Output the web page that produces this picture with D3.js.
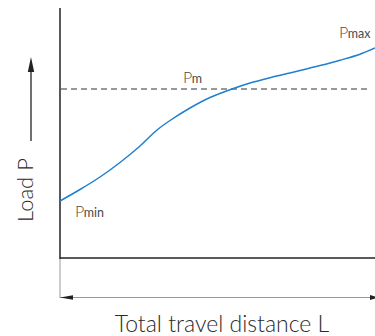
<!DOCTYPE html>
<html>
<head>
<meta charset="utf-8">
<script src="https://cdn.jsdelivr.net/npm/d3@7"></script>
<style>
  html, body { margin: 0; padding: 0; background: #fff; }
  svg { display: block; }
  text { font-family: Lato, "Open Sans", sans-serif; font-weight: 300; fill: #2a2a2a; }
  text.plabel { font-weight: 400; fill: #4a4a4a; }
</style>
</head>
<body>
<svg id="chart" width="375" height="336"></svg>
<script>
// Travel distance (arbitrary units) and load (arbitrary units)
const distance = [0, 20, 40, 60, 80, 97, 110, 130, 150, 172, 190, 210, 230, 240, 260, 280, 300, 315];
const load     = [57, 68.5, 81, 95.5, 112, 128, 137.5, 150, 160.5, 169, 175, 180.3, 185, 187.4, 192.4, 197.8, 203.8, 210];
const meanLoad = 169;
const labels = { min: "min", m: "m", max: "max" };
const xTitle = "Total travel distance L";
const yTitle = "Load P";

const svg = d3.select("#chart");
const x = d3.scaleLinear().domain([0, 315]).range([60, 375]);
const y = d3.scaleLinear().domain([0, 250]).range([258, 8]);

// Axes frame
svg.append("line").attr("x1", x(0)).attr("x2", x(0)).attr("y1", y(250)).attr("y2", y(0) + 1)
  .attr("stroke", "#222").attr("stroke-width", 1.5);
svg.append("line").attr("x1", x(0)).attr("x2", x(315)).attr("y1", y(0)).attr("y2", y(0))
  .attr("stroke", "#222").attr("stroke-width", 1.5);

// Mean load dashed line
svg.append("line").attr("x1", x(1)).attr("x2", x(311)).attr("y1", y(meanLoad)).attr("y2", y(meanLoad))
  .attr("stroke", "#333").attr("stroke-width", 1).attr("stroke-dasharray", "6,4");

// Load curve
const line = d3.line().x((d, i) => x(distance[i])).y(d => y(d)).curve(d3.curveCatmullRom.alpha(0.5));
svg.append("path").datum(load).attr("d", line)
  .attr("fill", "none").attr("stroke", "#1f7fd1").attr("stroke-width", 1.5);

// Labels P with subscripts
function pLabel(px, py, sub) {
  const t = svg.append("text").attr("class", "plabel").attr("x", px).attr("y", py);
  t.append("tspan").attr("font-size", 16).attr("font-weight", 300).text("P");
  t.append("tspan").attr("font-size", 12.5).attr("dx", -0.5).text(sub);
}
pLabel(x(15), y(41), labels.min);
pLabel(x(123), y(175), labels.m);
pLabel(x(279), y(220), labels.max);

// Y title with arrow
svg.append("text").attr("transform", "translate(33,190) rotate(-90)")
  .attr("text-anchor", "middle").attr("font-size", 22).text(yTitle);
svg.append("line").attr("x1", 31).attr("x2", 31).attr("y1", 141).attr("y2", 66)
  .attr("stroke", "#222").attr("stroke-width", 1.3);
svg.append("path").attr("d", "M31,57 L27.8,72 L34.2,72 Z").attr("fill", "#222");

// Dimension line for total travel distance
svg.append("line").attr("x1", x(0)).attr("x2", x(0)).attr("y1", y(0) + 1).attr("y2", 298)
  .attr("stroke", "#999").attr("stroke-width", 1);
svg.append("line").attr("x1", x(0)).attr("x2", x(315)).attr("y1", 297.5).attr("y2", 297.5)
  .attr("stroke", "#999").attr("stroke-width", 1);
svg.append("path").attr("d", `M${x(0)},297.5 L${x(0) + 13},295.3 L${x(0) + 13},299.7 Z`).attr("fill", "#222");
svg.append("path").attr("d", `M${x(315) + 3},297.5 L${x(315) - 5},295 L${x(315) - 5},300 Z`).attr("fill", "#222");

svg.append("text").attr("x", 222).attr("y", 332).attr("text-anchor", "middle")
  .attr("font-size", 23).text(xTitle);
</script>
</body>
</html>
